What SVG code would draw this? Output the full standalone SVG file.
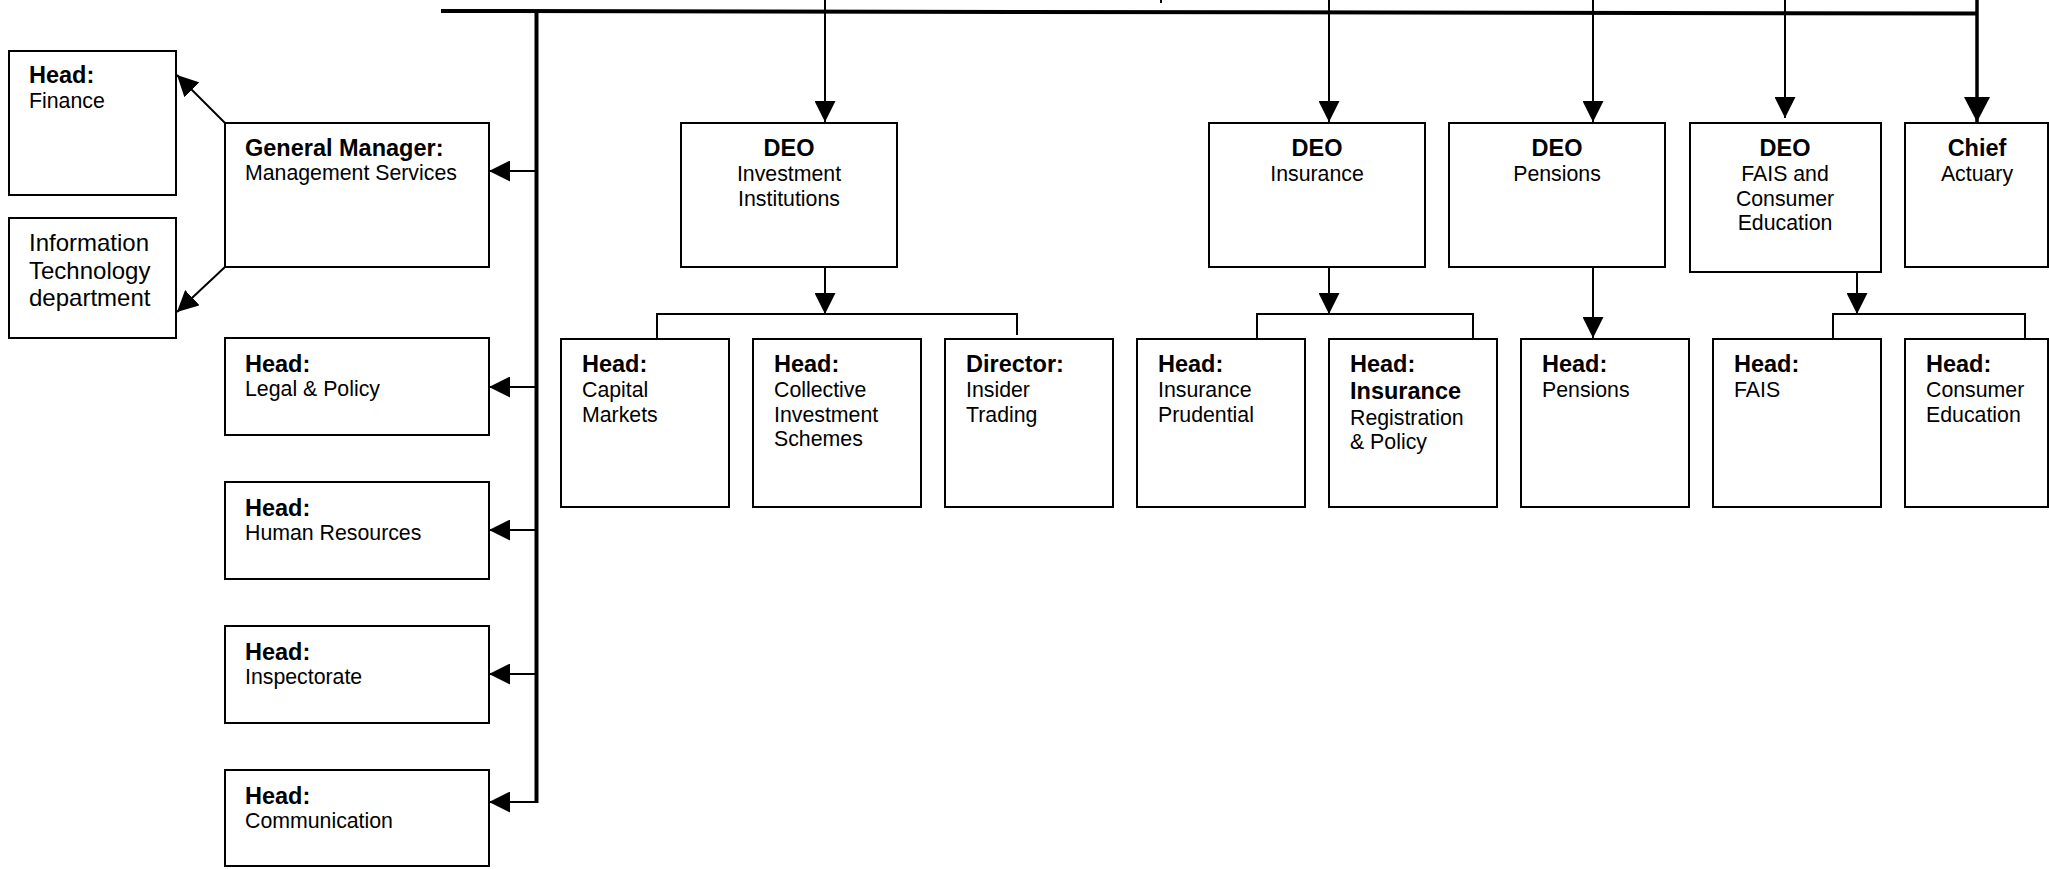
<svg xmlns="http://www.w3.org/2000/svg" width="2049" height="869" viewBox="0 0 2049 869">
<style>
  .box { fill: #fff; stroke: #000; stroke-width: 2; }
  .b { font-family: "Liberation Sans", Arial, sans-serif; font-weight: bold; font-size: 23.5px; fill: #000; }
  .r { font-family: "Liberation Sans", Arial, sans-serif; font-size: 21.3px; fill: #000; }
  .big { font-family: "Liberation Sans", Arial, sans-serif; font-size: 24px; fill: #000; }
  .c { text-anchor: middle; }
  .ln { stroke: #000; stroke-width: 2; fill: none; }
  .thick { stroke: #000; stroke-width: 4; fill: none; }
</style>
<defs>
  <marker id="ah" markerUnits="userSpaceOnUse" markerWidth="21" markerHeight="21" refX="21" refY="10.5" orient="auto">
    <path d="M0,0 L21,10.5 L0,21 z" fill="#000"/>
  </marker>
  <marker id="ahb" markerUnits="userSpaceOnUse" markerWidth="25" markerHeight="26" refX="25" refY="13" orient="auto">
    <path d="M0,0 L25,13 L0,26 z" fill="#000"/>
  </marker>
</defs>
<rect width="2049" height="869" fill="#fff"/>

<g id="connectors">
  <line class="thick" x1="441" y1="11" x2="1978" y2="13.5"/>
  <line class="thick" x1="536.5" y1="10" x2="536.5" y2="803"/>
  <line class="ln" x1="1161" y1="0" x2="1161" y2="3"/>
  <line class="ln" x1="536.5" y1="171" x2="489" y2="171" marker-end="url(#ah)"/>
  <line class="ln" x1="536.5" y1="387" x2="489" y2="387" marker-end="url(#ah)"/>
  <line class="ln" x1="536.5" y1="530" x2="489" y2="530" marker-end="url(#ah)"/>
  <line class="ln" x1="536.5" y1="674" x2="489" y2="674" marker-end="url(#ah)"/>
  <line class="ln" x1="538" y1="802" x2="489" y2="802" marker-end="url(#ah)"/>
  <line class="ln" x1="225" y1="123" x2="177" y2="75" marker-end="url(#ah)"/>
  <line class="ln" x1="225" y1="267" x2="177" y2="312" marker-end="url(#ah)"/>
  <line class="ln" x1="825" y1="0" x2="825" y2="122" marker-end="url(#ah)"/>
  <line class="ln" x1="1329" y1="0" x2="1329" y2="122" marker-end="url(#ah)"/>
  <line class="ln" x1="1593" y1="0" x2="1593" y2="122" marker-end="url(#ah)"/>
  <line class="ln" x1="1785" y1="0" x2="1785" y2="118" marker-end="url(#ah)"/>
  <line x1="1977" y1="0" x2="1977" y2="122" stroke="#000" stroke-width="3.5" marker-end="url(#ahb)"/>
  <line class="ln" x1="825" y1="267" x2="825" y2="314" marker-end="url(#ah)"/>
  <polyline class="ln" points="657,338 657,314 1017,314 1017,335"/>
  <line class="ln" x1="1329" y1="267" x2="1329" y2="314" marker-end="url(#ah)"/>
  <polyline class="ln" points="1257,339 1257,314 1473,314 1473,339"/>
  <line class="ln" x1="1593" y1="267" x2="1593" y2="338" marker-end="url(#ah)"/>
  <line class="ln" x1="1857" y1="266" x2="1857" y2="314" marker-end="url(#ah)"/>
  <polyline class="ln" points="1833,339 1833,314 2025,314 2025,339"/>
</g>

<g id="finance">
  <rect class="box" x="9" y="51" width="167" height="144"/>
  <text class="b" x="29" y="83">Head:</text>
  <text class="r" x="29" y="108">Finance</text>
</g>
<g id="it">
  <rect class="box" x="9" y="218" width="167" height="120"/>
  <text class="big" x="29" y="251">Information</text>
  <text class="big" x="29" y="279">Technology</text>
  <text class="big" x="29" y="306">department</text>
</g>
<g id="gm">
  <rect class="box" x="225" y="123" width="264" height="144"/>
  <text class="b" x="245" y="156">General Manager:</text>
  <text class="r" x="245" y="180">Management Services</text>
</g>
<g id="legal">
  <rect class="box" x="225" y="338" width="264" height="97"/>
  <text class="b" x="245" y="372">Head:</text>
  <text class="r" x="245" y="396">Legal &amp; Policy</text>
</g>
<g id="hr">
  <rect class="box" x="225" y="482" width="264" height="97"/>
  <text class="b" x="245" y="516">Head:</text>
  <text class="r" x="245" y="540">Human Resources</text>
</g>
<g id="inspectorate">
  <rect class="box" x="225" y="626" width="264" height="97"/>
  <text class="b" x="245" y="660">Head:</text>
  <text class="r" x="245" y="684">Inspectorate</text>
</g>
<g id="communication">
  <rect class="box" x="225" y="770" width="264" height="96"/>
  <text class="b" x="245" y="804">Head:</text>
  <text class="r" x="245" y="828">Communication</text>
</g>

<g id="deo-investment">
  <rect class="box" x="681" y="123" width="216" height="144"/>
  <text class="b c" x="789" y="156">DEO</text>
  <text class="r c" x="789" y="181">Investment</text>
  <text class="r c" x="789" y="206">Institutions</text>
</g>
<g id="deo-insurance">
  <rect class="box" x="1209" y="123" width="216" height="144"/>
  <text class="b c" x="1317" y="156">DEO</text>
  <text class="r c" x="1317" y="181">Insurance</text>
</g>
<g id="deo-pensions">
  <rect class="box" x="1449" y="123" width="216" height="144"/>
  <text class="b c" x="1557" y="156">DEO</text>
  <text class="r c" x="1557" y="181">Pensions</text>
</g>
<g id="deo-fais">
  <rect class="box" x="1690" y="123" width="191" height="149"/>
  <text class="b c" x="1785" y="156">DEO</text>
  <text class="r c" x="1785" y="181">FAIS and</text>
  <text class="r c" x="1785" y="206">Consumer</text>
  <text class="r c" x="1785" y="230">Education</text>
</g>
<g id="chief-actuary">
  <rect class="box" x="1905" y="123" width="143" height="144"/>
  <text class="b c" x="1977" y="156">Chief</text>
  <text class="r c" x="1977" y="181">Actuary</text>
</g>

<g id="capital-markets">
  <rect class="box" x="561" y="339" width="168" height="168"/>
  <text class="b" x="582" y="372">Head:</text>
  <text class="r" x="582" y="397">Capital</text>
  <text class="r" x="582" y="421.5">Markets</text>
</g>
<g id="collective-investment">
  <rect class="box" x="753" y="339" width="168" height="168"/>
  <text class="b" x="774" y="372">Head:</text>
  <text class="r" x="774" y="397">Collective</text>
  <text class="r" x="774" y="421.5">Investment</text>
  <text class="r" x="774" y="446">Schemes</text>
</g>
<g id="insider-trading">
  <rect class="box" x="945" y="339" width="168" height="168"/>
  <text class="b" x="966" y="372">Director:</text>
  <text class="r" x="966" y="397">Insider</text>
  <text class="r" x="966" y="421.5">Trading</text>
</g>
<g id="insurance-prudential">
  <rect class="box" x="1137" y="339" width="168" height="168"/>
  <text class="b" x="1158" y="372">Head:</text>
  <text class="r" x="1158" y="397">Insurance</text>
  <text class="r" x="1158" y="421.5">Prudential</text>
</g>
<g id="insurance-registration">
  <rect class="box" x="1329" y="339" width="168" height="168"/>
  <text class="b" x="1350" y="372">Head:</text>
  <text class="b" x="1350" y="399">Insurance</text>
  <text class="r" x="1350" y="425">Registration</text>
  <text class="r" x="1350" y="449">&amp; Policy</text>
</g>
<g id="head-pensions">
  <rect class="box" x="1521" y="339" width="168" height="168"/>
  <text class="b" x="1542" y="372">Head:</text>
  <text class="r" x="1542" y="397">Pensions</text>
</g>
<g id="head-fais">
  <rect class="box" x="1713" y="339" width="168" height="168"/>
  <text class="b" x="1734" y="372">Head:</text>
  <text class="r" x="1734" y="397">FAIS</text>
</g>
<g id="consumer-education">
  <rect class="box" x="1905" y="339" width="143" height="168"/>
  <text class="b" x="1926" y="372">Head:</text>
  <text class="r" x="1926" y="397">Consumer</text>
  <text class="r" x="1926" y="421.5">Education</text>
</g>
</svg>
